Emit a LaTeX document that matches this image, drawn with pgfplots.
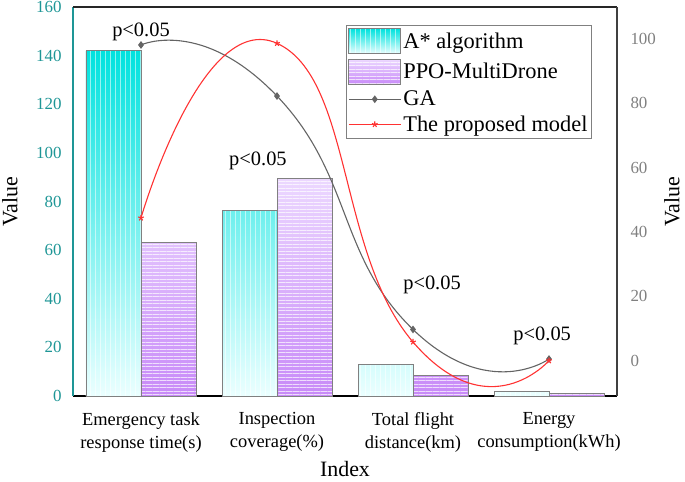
\documentclass[border=0pt]{standalone}
\usepackage{fontspec}
\setmainfont{Liberation Serif}
\usepackage{pgfplots}
\pgfplotsset{compat=1.18}
\usetikzlibrary{patterns.meta}
\definecolor{tealax}{RGB}{30,150,150}
\definecolor{cyanT}{RGB}{0,226,222}
\definecolor{cyanB}{RGB}{235,255,255}
\definecolor{purT}{RGB}{236,216,255}
\definecolor{purB}{RGB}{200,138,248}
\definecolor{gaC}{RGB}{100,100,100}
\definecolor{redC}{RGB}{255,50,50}
\pgfplotsset{
  astar/.style={draw=gray, line width=0.9bp, top color=cyanT, bottom color=cyanB,
    postaction={pattern={Lines[angle=90,distance=5bp,line width=1bp]}, pattern color=white, fill opacity=0.45}},
  ppo/.style={draw=gray, line width=0.9bp, top color=purT, bottom color=purB,
    postaction={pattern={Lines[angle=0,distance=3.5bp,line width=0.8bp]}, pattern color=white, fill opacity=0.3}},
  barlegend/.style={legend image code/.code={\draw[##1] (0bp,-12.5bp) rectangle (52bp,12.5bp);}},
  linelegend/.style={legend image code/.code={\draw[mark repeat=2,mark phase=2,##1] plot coordinates {(0bp,0bp) (26bp,0bp) (52bp,0bp)};}},
}
\begin{document}
\begin{tikzpicture}
\useasboundingbox (-73bp,-86bp) rectangle (612bp,396bp);
\begin{axis}[
  width=544bp, height=389bp, scale only axis,
  xmin=-0.5, xmax=3.5, ymin=0, ymax=160,
  axis x line*=bottom, axis y line*=left,
  axis line style={-},
  x axis line style={black, line width=1.2bp},
  y axis line style={tealax, line width=1.2bp},
  major tick length=0pt,
  xtick={0,1,2,3},
  xticklabels={{Emergency task\\response time(s)},{Inspection\\coverage(\%)},{Total flight\\distance(km)},{Energy\\consumption(kWh)}},
  xticklabel style={align=center, font=\fontsize{18.5}{23}\selectfont, text=black, yshift=-13bp},
  ytick={0,20,...,160},
  yticklabel style={text=tealax, font=\fontsize{17}{20}\selectfont, xshift=-8bp},
  /pgf/number format/assume math mode=true,
  ylabel={Value}, xlabel={Index},
  every axis y label/.style={at={(axis description cs:0,0.5)}, rotate=90, anchor=center, yshift=63bp, font=\fontsize{22}{26}\selectfont},
  every axis x label/.style={at={(axis description cs:0.5,0)}, anchor=center, yshift=-73bp, font=\fontsize{22}{26}\selectfont},
  ybar=0pt, bar width=55bp,
]
\addplot[astar] coordinates {(0,142) (1,76.4) (2,13) (3,1.8)};
\addplot[ppo] coordinates {(0,63.1) (1,89.3) (2,8.4) (3,1.1)};
\node[font=\fontsize{20.5}{24}\selectfont, anchor=base] at (axis cs:0,148) {p<0.05};
\node[font=\fontsize{20.5}{24}\selectfont, anchor=base] at (axis cs:0.86,95) {p<0.05};
\node[font=\fontsize{20.5}{24}\selectfont, anchor=base] at (axis cs:2.14,43.6) {p<0.05};
\node[font=\fontsize{20.5}{24}\selectfont, anchor=base] at (axis cs:2.95,23) {p<0.05};
\end{axis}
\begin{axis}[
  width=544bp, height=389bp, scale only axis,
  xmin=-0.5, xmax=3.5, ymin=-11, ymax=110,
  axis y line*=right, axis x line*=top,
  axis line style={-},
  y axis line style={black!75, line width=1.2bp},
  x axis line style={black!85, line width=1.2bp},
  major tick length=0pt,
  xtick=\empty,
  ytick={0,20,...,100},
  yticklabel style={text=gray, font=\fontsize{17}{20}\selectfont, xshift=10bp},
  /pgf/number format/assume math mode=true,
  ylabel={Value},
  every axis y label/.style={at={(axis description cs:1,0.5)}, rotate=90, anchor=center, yshift=-55bp, font=\fontsize{22}{26}\selectfont},
  legend style={at={(rel axis cs:0.954,0.954)}, anchor=north east, draw=gray, line width=0.8bp, fill=white,
    font=\fontsize{22.5}{26}\selectfont, inner xsep=2bp, inner ysep=3bp, row sep=4.5bp,
    cells={anchor=west}},
]
\addlegendimage{astar, barlegend}
\addlegendimage{ppo, barlegend}
\addlegendimage{gaC, line width=1.1bp, mark=diamond*, mark size=3bp, mark options={fill=gaC}, linelegend}
\addlegendimage{redC, line width=1.1bp, mark=star, mark size=3bp, linelegend}
\addplot[gaC, line width=1.1bp, smooth, tension=1, mark=diamond*, mark size=3bp, mark options={fill=gaC}] coordinates {(0,98.2) (1,82.3) (2,9.7) (3,0.5)};
\addplot[redC, line width=1.1bp, smooth, tension=1, mark=star, mark size=3bp] coordinates {(0,44.4) (1,98.7) (2,5.8) (3,0)};
\legend{A* algorithm, PPO-MultiDrone, GA, The proposed model}
\end{axis}
\end{tikzpicture}
\end{document}
